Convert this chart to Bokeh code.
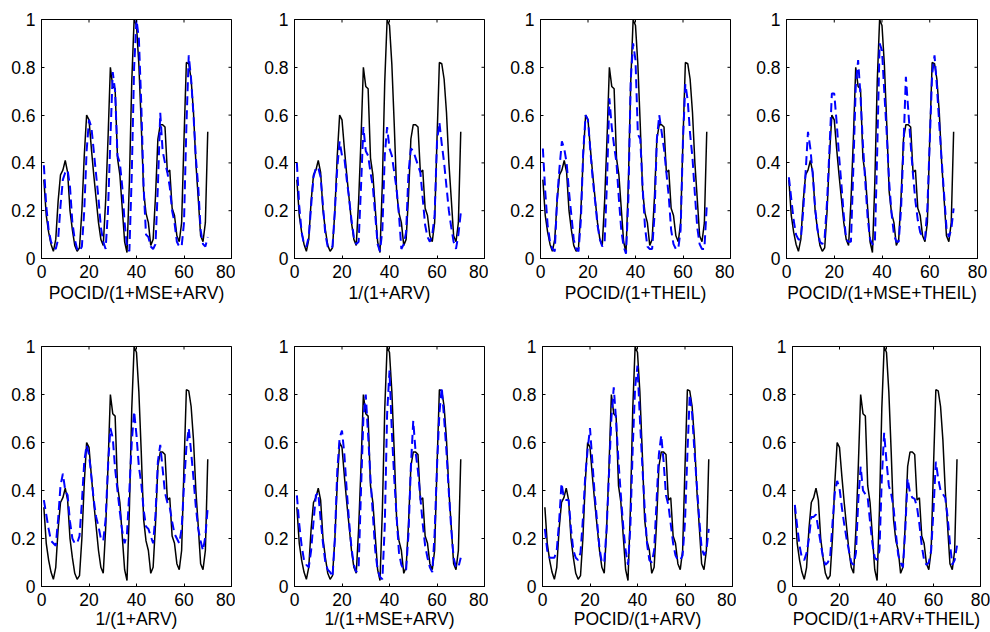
import math
from bokeh.plotting import figure
from bokeh.layouts import column, row
from bokeh.models import FixedTicker, Range1d
from bokeh.embed import file_html
from bokeh.resources import INLINE

# ---------------- data ----------------
t = list(range(1, 71))

actual = [0.33, 0.18, 0.11, 0.06, 0.03, 0.08, 0.24, 0.35, 0.37, 0.41,
          0.36, 0.20, 0.12, 0.055, 0.03, 0.045, 0.20, 0.43, 0.60, 0.58,
          0.46, 0.35, 0.25, 0.15, 0.08, 0.055, 0.24, 0.50, 0.80, 0.72,
          0.71, 0.42, 0.35, 0.21, 0.07, 0.025, 0.32, 0.74, 1.00, 0.975,
          0.81, 0.56, 0.28, 0.19, 0.15, 0.055, 0.08, 0.26, 0.50, 0.56,
          0.56, 0.55, 0.36, 0.37, 0.21, 0.18, 0.095, 0.07, 0.15, 0.50,
          0.82, 0.815, 0.75, 0.61, 0.40, 0.25, 0.095, 0.07, 0.15, 0.53]

pred_pocid_mse_arv = [0.39, 0.22, 0.12, 0.07, 0.05, 0.04, 0.08, 0.22, 0.33, 0.36,
                      0.37, 0.30, 0.15, 0.08, 0.04, 0.03, 0.05, 0.20, 0.45, 0.58,
                      0.55, 0.45, 0.35, 0.25, 0.13, 0.07, 0.04, 0.20, 0.50, 0.78,
                      0.70, 0.43, 0.40, 0.30, 0.15, 0.05, 0.03, 0.35, 0.80, 1.00,
                      0.92, 0.65, 0.30, 0.10, 0.09, 0.05, 0.04, 0.06, 0.30, 0.61,
                      0.45, 0.40, 0.36, 0.30, 0.20, 0.15, 0.07, 0.05, 0.05, 0.15,
                      0.55, 0.85, 0.75, 0.60, 0.42, 0.30, 0.12, 0.06, 0.05, 0.09]

pred_arv_a = [0.40, 0.22, 0.11, 0.06, 0.05, 0.09, 0.22, 0.34, 0.38, 0.38,
              0.34, 0.22, 0.10, 0.05, 0.04, 0.05, 0.20, 0.38, 0.49, 0.43,
              0.42, 0.33, 0.25, 0.16, 0.09, 0.06, 0.07, 0.30, 0.55, 0.45,
              0.43, 0.36, 0.30, 0.18, 0.06, 0.03, 0.12, 0.43, 0.55, 0.46,
              0.43, 0.36, 0.29, 0.18, 0.04, 0.06, 0.11, 0.36, 0.46, 0.45,
              0.42, 0.39, 0.36, 0.25, 0.14, 0.09, 0.07, 0.10, 0.18, 0.49,
              0.57, 0.48, 0.40, 0.30, 0.20, 0.13, 0.07, 0.04, 0.10, 0.19]

pred_pocid_theil = [0.46, 0.28, 0.14, 0.07, 0.04, 0.03, 0.25, 0.38, 0.49, 0.46,
                    0.40, 0.28, 0.18, 0.08, 0.04, 0.03, 0.16, 0.45, 0.60, 0.58,
                    0.45, 0.33, 0.24, 0.14, 0.08, 0.05, 0.07, 0.32, 0.67, 0.55,
                    0.47, 0.40, 0.25, 0.12, 0.05, 0.02, 0.25, 0.75, 0.90, 0.83,
                    0.52, 0.50, 0.30, 0.13, 0.05, 0.04, 0.04, 0.18, 0.50, 0.60,
                    0.53, 0.46, 0.36, 0.26, 0.12, 0.06, 0.04, 0.04, 0.12, 0.50,
                    0.73, 0.66, 0.52, 0.42, 0.27, 0.13, 0.06, 0.04, 0.04, 0.22]

pred_pocid_mse_theil = [0.34, 0.25, 0.16, 0.10, 0.08, 0.08, 0.20, 0.36, 0.53, 0.46,
                        0.35, 0.21, 0.12, 0.07, 0.06, 0.09, 0.24, 0.46, 0.69, 0.69,
                        0.57, 0.43, 0.31, 0.18, 0.08, 0.07, 0.07, 0.38, 0.72, 0.83,
                        0.68, 0.48, 0.32, 0.17, 0.08, 0.06, 0.06, 0.45, 0.90, 0.87,
                        0.69, 0.52, 0.32, 0.19, 0.10, 0.07, 0.07, 0.21, 0.47, 0.76,
                        0.62, 0.48, 0.35, 0.24, 0.16, 0.11, 0.09, 0.08, 0.21, 0.49,
                        0.77, 0.85, 0.72, 0.56, 0.41, 0.27, 0.13, 0.09, 0.12, 0.21]

pred_arv_b = [0.36, 0.30, 0.24, 0.19, 0.18, 0.17, 0.28, 0.42, 0.47, 0.40,
              0.38, 0.27, 0.20, 0.18, 0.18, 0.21, 0.35, 0.52, 0.59, 0.55,
              0.46, 0.36, 0.29, 0.25, 0.20, 0.19, 0.28, 0.50, 0.66, 0.62,
              0.49, 0.40, 0.31, 0.23, 0.18, 0.22, 0.40, 0.60, 0.73, 0.63,
              0.50, 0.43, 0.32, 0.25, 0.24, 0.21, 0.18, 0.30, 0.52, 0.59,
              0.49, 0.39, 0.35, 0.33, 0.27, 0.22, 0.20, 0.18, 0.24, 0.42,
              0.58, 0.66, 0.56, 0.45, 0.33, 0.24, 0.19, 0.15, 0.21, 0.33]

pred_mse_arv = [0.38, 0.26, 0.17, 0.11, 0.09, 0.08, 0.15, 0.27, 0.38, 0.39,
                0.28, 0.18, 0.10, 0.07, 0.06, 0.04, 0.20, 0.48, 0.62, 0.65,
                0.55, 0.40, 0.27, 0.16, 0.09, 0.06, 0.08, 0.40, 0.70, 0.80,
                0.63, 0.45, 0.30, 0.15, 0.07, 0.04, 0.03, 0.25, 0.72, 0.90,
                0.64, 0.45, 0.29, 0.14, 0.09, 0.07, 0.07, 0.22, 0.50, 0.69,
                0.56, 0.48, 0.37, 0.26, 0.17, 0.12, 0.08, 0.06, 0.22, 0.50,
                0.72, 0.83, 0.70, 0.56, 0.39, 0.24, 0.12, 0.08, 0.08, 0.12]

pred_pocid_arv = [0.24, 0.15, 0.12, 0.12, 0.12, 0.15, 0.27, 0.43, 0.37, 0.36,
                  0.36, 0.24, 0.15, 0.12, 0.11, 0.14, 0.28, 0.46, 0.57, 0.66,
                  0.52, 0.38, 0.27, 0.16, 0.10, 0.10, 0.24, 0.47, 0.70, 0.83,
                  0.69, 0.52, 0.38, 0.25, 0.15, 0.09, 0.25, 0.58, 0.83, 0.92,
                  0.70, 0.51, 0.33, 0.18, 0.11, 0.10, 0.15, 0.35, 0.55, 0.63,
                  0.52, 0.38, 0.34, 0.26, 0.18, 0.13, 0.11, 0.11, 0.13, 0.27,
                  0.55, 0.80, 0.72, 0.56, 0.42, 0.28, 0.16, 0.13, 0.15, 0.24]

pred_pocid_arv_theil = [0.34, 0.25, 0.17, 0.12, 0.11, 0.14, 0.20, 0.29, 0.29, 0.30,
                        0.24, 0.18, 0.12, 0.09, 0.10, 0.12, 0.26, 0.39, 0.44, 0.41,
                        0.33, 0.26, 0.20, 0.15, 0.10, 0.09, 0.14, 0.36, 0.50, 0.40,
                        0.385, 0.37, 0.27, 0.18, 0.12, 0.11, 0.15, 0.45, 0.64, 0.52,
                        0.42, 0.385, 0.33, 0.22, 0.13, 0.10, 0.08, 0.24, 0.45, 0.39,
                        0.37, 0.365, 0.33, 0.26, 0.17, 0.11, 0.09, 0.10, 0.15, 0.32,
                        0.52, 0.45, 0.40, 0.385, 0.37, 0.29, 0.18, 0.09, 0.11, 0.17]

titles = ["POCID/(1+MSE+ARV)", "1/(1+ARV)", "POCID/(1+THEIL)", "POCID/(1+MSE+THEIL)",
          "1/(1+ARV)", "1/(1+MSE+ARV)", "POCID/(1+ARV)", "POCID/(1+ARV+THEIL)"]
preds = [pred_pocid_mse_arv, pred_arv_a, pred_pocid_theil, pred_pocid_mse_theil,
         pred_arv_b, pred_mse_arv, pred_pocid_arv, pred_pocid_arv_theil]

x_ticks = [0, 20, 40, 60, 80]
y_ticks = [0, 0.2, 0.4, 0.6, 0.8, 1]
y_tick_labels = ["0", "0.2", "0.4", "0.6", "0.8", "1"]
X_MIN, X_MAX = 0, 80
Y_MIN, Y_MAX = 0, 1

# ---------------- layout geometry ----------------
FONT = "Liberation Sans"
FS = "17.5px"
# (left border, frame width, right border) per panel
top_geom = [(41, 190, 4), (59, 190, 4), (52, 190, 4), (52, 191, 14)]
bot_geom = [(41, 190, 4), (59, 190, 4), (54, 190, 4), (56, 188, 11)]
TOP_T, TOP_H, TOP_B = 19, 239, 50
BOT_T, BOT_H, BOT_B = 38, 240, 46


def style_axis(ax):
    ax.axis_line_color = "black"
    ax.axis_line_width = 1
    ax.major_tick_line_color = "black"
    ax.major_tick_in = 3
    ax.major_tick_out = 0
    ax.minor_tick_line_color = None
    ax.major_label_text_font = FONT
    ax.major_label_text_font_size = FS
    ax.major_label_text_color = "black"
    ax.major_label_standoff = 6


def make_panel(title, pred, L, FW, R, T, FH, B, label_standoff):
    p = figure(width=L + FW + R, height=T + FH + B,
               x_range=Range1d(X_MIN, X_MAX), y_range=Range1d(Y_MIN, Y_MAX),
               output_backend="svg", toolbar_location=None,
               min_border_left=L, min_border_right=R,
               min_border_top=T, min_border_bottom=B)
    p.xgrid.visible = False
    p.ygrid.visible = False
    p.background_fill_color = "white"
    p.border_fill_color = "white"
    p.outline_line_color = "black"
    p.outline_line_alpha = 1
    p.outline_line_width = 1

    p.line(t, actual, line_color="black", line_width=1.5)
    p.line(t, pred, line_color="#0000ff", line_width=2, line_dash="9 5")

    # inward ticks on the top and right edges of the box (clipped to the frame)
    p.scatter(x=x_ticks, y=[Y_MAX] * len(x_ticks), marker="dash", angle=math.pi / 2,
              size=6, line_color="black", line_width=1)
    p.scatter(x=[X_MAX] * len(y_ticks), y=y_ticks, marker="dash",
              size=6, line_color="black", line_width=1)

    p.xaxis.ticker = FixedTicker(ticks=x_ticks)
    p.yaxis.ticker = FixedTicker(ticks=y_ticks)
    p.yaxis.major_label_overrides = {v: s for v, s in zip(y_ticks, y_tick_labels)}
    for ax in (p.xaxis[0], p.yaxis[0]):
        style_axis(ax)
    xa = p.xaxis[0]
    xa.axis_label = title
    xa.axis_label_text_font = FONT
    xa.axis_label_text_font_size = FS
    xa.axis_label_text_font_style = "normal"
    xa.axis_label_text_color = "black"
    xa.axis_label_standoff = label_standoff
    return p


top_row = [make_panel(titles[i], preds[i], *top_geom[i], TOP_T, TOP_H, TOP_B, 2) for i in range(4)]
bot_row = [make_panel(titles[i + 4], preds[i + 4], *bot_geom[i], BOT_T, BOT_H, BOT_B, 0) for i in range(4)]

layout = column(row(*top_row, spacing=0), row(*bot_row, spacing=0), spacing=0)

open("out.html", "w").write(file_html(layout, INLINE))
